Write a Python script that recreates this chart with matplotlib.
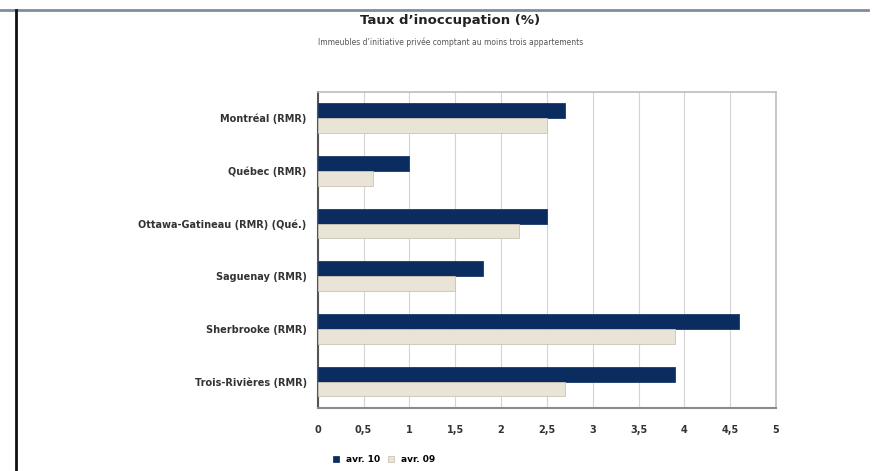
import numpy as np
import matplotlib.pyplot as plt
from matplotlib.lines import Line2D

# Data
villes = ["Montréal (RMR)", "Québec (RMR)", "Ottawa-Gatineau (RMR) (Qué.)",
          "Saguenay (RMR)", "Sherbrooke (RMR)", "Trois-Rivières (RMR)"]
taux_2010 = [2.7, 1.0, 2.5, 1.8, 4.6, 3.9]
taux_2009 = [2.5, 0.6, 2.2, 1.5, 3.9, 2.7]
xticks = [0, 0.5, 1, 1.5, 2, 2.5, 3, 3.5, 4, 4.5, 5]
xtick_labels = ["0", "0,5", "1", "1,5", "2", "2,5", "3", "3,5", "4", "4,5", "5"]

fig = plt.figure(figsize=(8.73, 4.71), dpi=100)
ax = fig.add_axes([0.364, 0.134, 0.525, 0.671])

y = np.arange(len(villes))
h = 0.28
ax.barh(y - h/2, taux_2010, height=h, color='#0b2c5f', edgecolor='#1a3a6a', linewidth=0.6, label="avr. 10", zorder=3)
ax.barh(y + h/2, taux_2009, height=h, color='#e9e4d6', edgecolor='#c9c4b6', linewidth=0.6, label="avr. 09", zorder=3)

ax.set_ylim(len(villes) - 0.5, -0.5)
ax.set_xlim(0, 5)
ax.set_yticks(y)
ax.set_yticklabels(villes, fontsize=7, fontweight='bold', color='#333333')
ax.set_xticks(xticks)
ax.set_xticklabels(xtick_labels, fontsize=7, fontweight='bold', color='#333333')
ax.tick_params(axis='both', length=0, pad=8)
ax.tick_params(axis='x', pad=12)
ax.grid(axis='x', color='#d4d4d4', linewidth=0.8, zorder=0)
for side in ['top', 'right']:
    ax.spines[side].set_color('#bdbdbd')
    ax.spines[side].set_linewidth(1.2)
ax.spines['bottom'].set_color('#8a8a8a')
ax.spines['bottom'].set_linewidth(1.5)
ax.spines['left'].set_color('#555555')
ax.spines['left'].set_linewidth(1.5)

fig.text(0.516, 0.956, "Taux d\u2019inoccupation (%)", ha='center', va='center',
         fontsize=9.5, fontweight='bold', color='#222222')
fig.text(0.516, 0.91, "Immeubles d\u2019initiative privée comptant au moins trois appartements",
         ha='center', va='center', fontsize=5.5, color='#555555')

# page frame: top rule and left border
fig.add_artist(Line2D([0, 0.994], [0.978, 0.978], transform=fig.transFigure, color='#7d8da0', linewidth=2))
fig.add_artist(Line2D([0.018, 0.018], [0, 0.978], transform=fig.transFigure, color='#111111', linewidth=2))

fig.legend(loc='upper center', bbox_to_anchor=(0.44, 0.045), ncol=2, frameon=False,
           handlelength=0.7, handleheight=0.7, columnspacing=0.8, borderpad=0.1,
           prop={'weight': 'bold', 'size': 6.5})

fig.savefig("out.png", dpi=100)
